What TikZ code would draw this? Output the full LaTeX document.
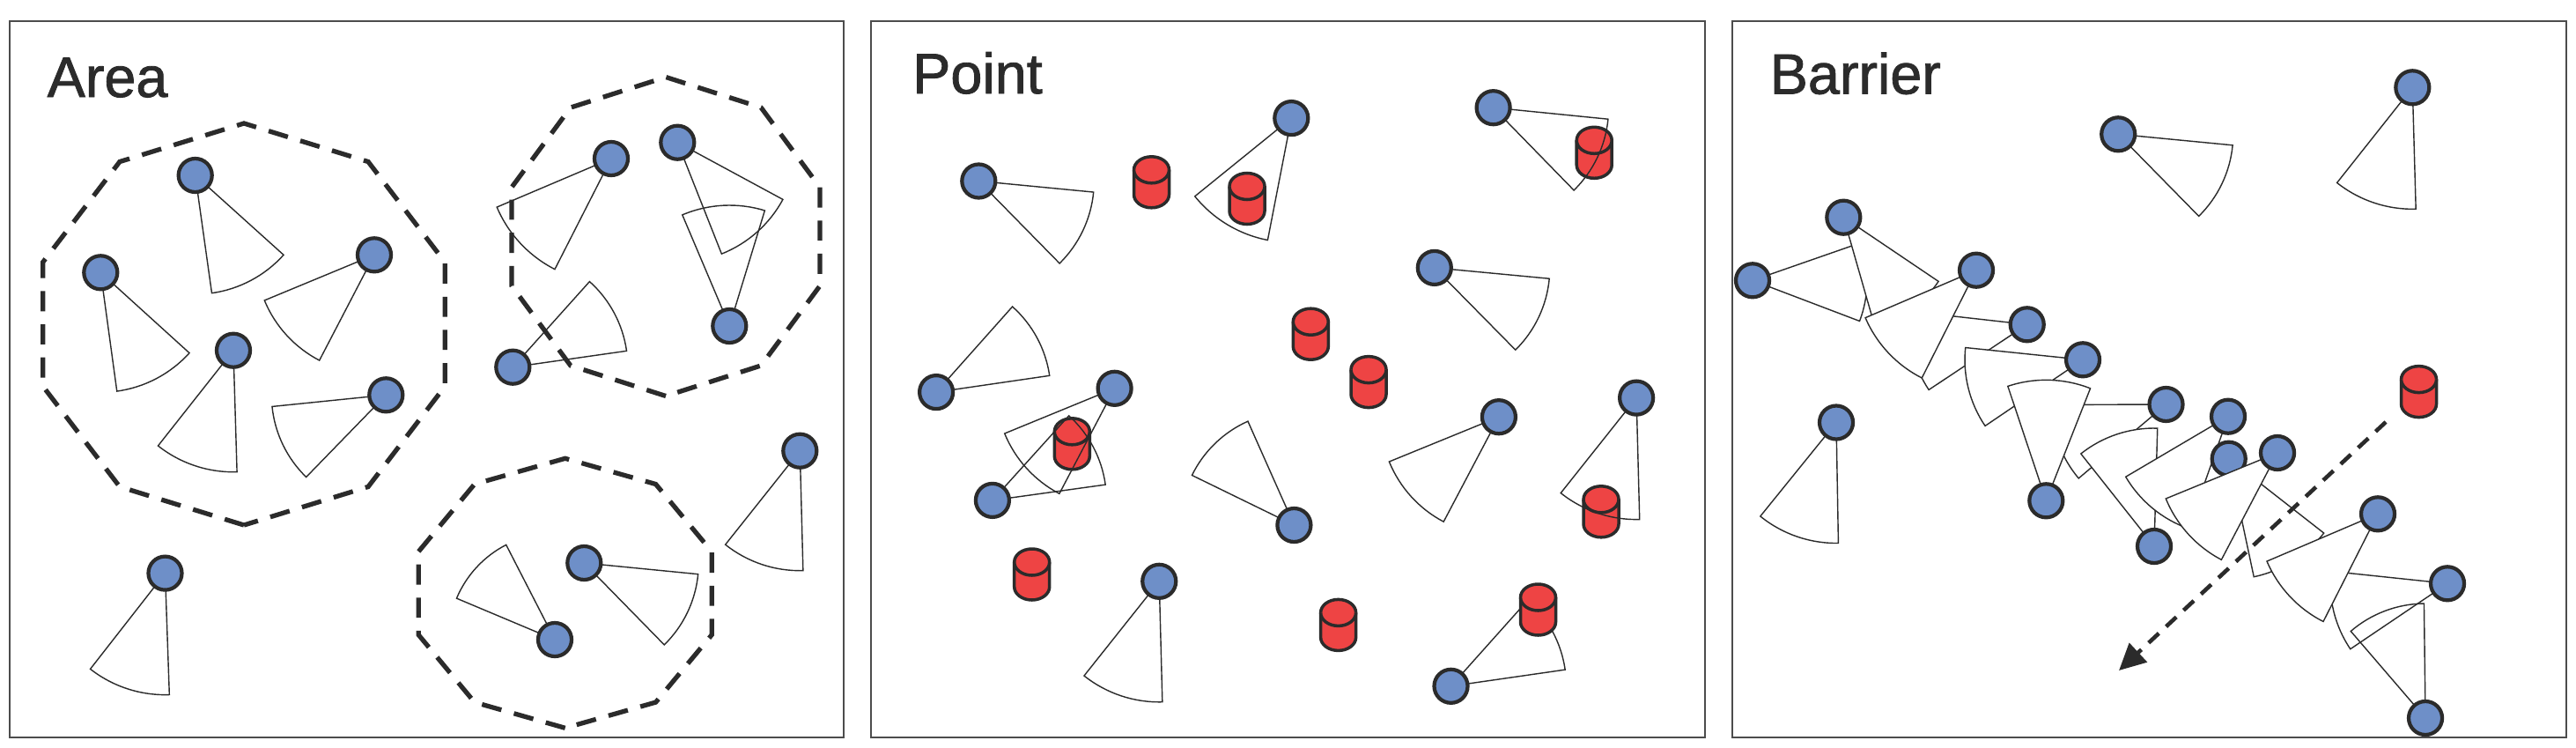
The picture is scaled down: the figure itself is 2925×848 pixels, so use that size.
\documentclass[tikz,border=0pt]{standalone}
\usepackage{fontspec}
\setmainfont{Liberation Sans}
\newfontfamily\titlefont{Liberation Sans}[FakeBold=1.3]
\usetikzlibrary{calc}
\usetikzlibrary{positioning, arrows.meta}

\definecolor{sensorblue}{HTML}{6E8FC8}
\definecolor{targetred}{HTML}{EE4444}
\definecolor{inkgray}{HTML}{2B2B2B}

% sensor: field of view first, disc on top
\newcommand{\sensor}[5][]{%
  \draw[fan,#1] (#3) -- ++(#4-20:#5) arc[start angle=#4-20, end angle=#4+20, radius=#5] -- cycle;
  \node[sensor] (#2) at (#3) {};
}
% target: small red cylinder
\newcommand{\targetcyl}[3]{%
  \coordinate (#1) at (#2,#3);
  \filldraw[target] (#2-20,#3-14) -- (#2-20,#3+14) arc[start angle=180, end angle=0, x radius=20, y radius=15]
    -- (#2+20,#3-14) arc[start angle=0, end angle=-180, x radius=20, y radius=15] -- cycle;
  \draw[target] (#2-20,#3-14) arc[start angle=180, end angle=0, x radius=20, y radius=15];
}
% dashed decagon round a group
\newcommand{\zonepoly}[3]{%
  \draw[zone] (#1) +(90:#2 and #3) \foreach \k in {1,...,9} { -- +(90+36*\k:#2 and #3) } -- cycle;
}

\begin{document}
\begin{tikzpicture}[x=0.01cm, y=0.01cm, yscale=-1]
        % Define styles
        \tikzset{
            panel/.style={draw=black!70, line width=0.5pt},
            paneltitle/.style={anchor=base west, inner sep=0pt, text=inkgray, font=\titlefont\fontsize{18.4}{22}\selectfont},
            sensor/.style={circle, draw=inkgray, fill=sensorblue, line width=1.2pt, minimum size=0.38cm, inner sep=0pt},
            fan/.style={draw=inkgray, line width=0.4pt},
            target/.style={draw=inkgray, fill=targetred, line width=1pt},
            zone/.style={draw=inkgray, line width=1.5pt, dash pattern=on 6.5pt off 4.2pt},
            moveline/.style={draw=inkgray, line width=1.3pt, dash pattern=on 4.5pt off 3.2pt, -{Triangle[length=3mm, width=2.9mm]}}
        }
        \path[fill=white] (0,0) rectangle (2925,848);
        \useasboundingbox (0,0) rectangle (2925,848);

        % Draw panels
        \draw[panel] (11,24) rectangle (958,837);
        \draw[panel] (989,24) rectangle (1936,837);
        \draw[panel] (1967,24) rectangle (2914,837);
        \node[paneltitle] (areatitle) at (53,110) {Area};
        \node[paneltitle] (pointtitle) at (1035.5,106) {Point};
        \node[paneltitle] (barriertitle) at (2009,106.5) {Barrier};

        % Area coverage
        \zonepoly{277,368}{240}{228}
        \zonepoly{756,268.5}{184}{181}
        \zonepoly{641.7,673.3}{175}{153}
        \sensor{area1}{221.7,199}{62}{135}
        \sensor{area2}{114.3,309.3}{62.2}{136}
        \sensor{area3}{425,289.3}{137.5}{135}
        \sensor{area4}{265,397.7}{108.3}{138}
        \sensor{area5}{438.3,448.3}{154.2}{130}
        \sensor{area6}{694,180}{137}{141}
        \sensor{area7}{769.3,161.7}{48.4}{136}
        \sensor{area8}{828.3,370}{-93}{137}
        \sensor{area9}{582.3,416.7}{-28.1}{130.5}
        \sensor{area10}{908.3,511.7}{108.5}{136}
        \sensor{area11}{663.3,639}{25.6}{130}
        \sensor{area12}{630,726}{-137.2}{121}
        \sensor{area13}{187.5,650.6}{108}{138}

        % Point coverage
        \targetcyl{target1}{1307.5}{206.8}
        \targetcyl{target2}{1416}{225.5}
        \targetcyl{target3}{1810.2}{173.3}
        \targetcyl{target4}{1488.3}{379.2}
        \targetcyl{target5}{1554}{433.6}
        \targetcyl{target6}{1217.3}{503.8}
        \targetcyl{target7}{1818}{580.8}
        \targetcyl{target8}{1171.7}{652}
        \targetcyl{target9}{1519.6}{709.4}
        \sensor{point1}{1111.3,205.5}{25.5}{131}
        \sensor{point2}{1466.3,134.1}{121}{141}
        \sensor{point3}{1695.6,122.2}{25.7}{131}
        \sensor{point4}{1628.8,303.9}{25.4}{131}
        \sensor{point5}{1063.1,445.1}{-28.3}{130}
        \sensor{point6}{1265.6,440.8}{137.7}{135}
        \sensor{point7}{1126.9,567.9}{-27.9}{129.5}
        \sensor{point8}{1469.4,596}{-134}{129}
        \sensor{point9}{1701.9,473.2}{137.8}{134.5}
        \sensor{point10}{1858.1,451.6}{108.5}{138}
        \sensor{point11}{1316.25,659.8}{108.5}{137}
        \sensor{point12}{1647.5,778.8}{-28.2}{131}
        \targetcyl{target10}{1746.5}{692}

        % Barrier coverage
        \sensor[fill=white]{barrier1}{2739.3,99.3}{108.4}{138}
        \sensor[fill=white]{barrier2}{2405.2,152.3}{25.5}{130.5}
        \sensor[fill=white]{barrier17}{2085,479.5}{109}{137}
        \sensor[fill=white]{barrier3}{1990,318.3}{0.8}{130}
        \sensor[fill=white]{barrier4}{2093.3,246.7}{54}{130}
        \sensor[fill=white]{barrier6}{2301.7,368.3}{166.4}{134}
        \sensor[fill=white]{barrier5}{2244,306.7}{136.8}{137}
        \sensor[fill=white]{barrier7}{2365,408.3}{165.9}{134}
        \sensor{barrier9}{2459.5,459}{159.8}{130}
        \sensor[fill=white]{barrier8}{2323.3,568.3}{-88.5}{137}
        \sensor[fill=white]{barrier10}{2446,620}{-108.4}{134}
        \sensor[fill=white]{barrier11}{2530,472.7}{129.5}{135}
        \sensor[fill=white]{barrier12}{2530.7,520.7}{58}{137}
        \sensor[fill=white]{barrier13}{2586,514}{137.7}{137}
        \sensor{barrier15}{2779,662.3}{166}{133}
        \sensor{barrier16}{2754,815}{-110.7}{130}
        \sensor[fill=white]{barrier14}{2700,583.3}{136.9}{137}
        \targetcyl{intruder}{2746.5}{444.6}
        \coordinate (entry) at (2709,479);
        \coordinate (exit) at (2406,761);
        \draw[moveline] (entry) -- (exit);
\end{tikzpicture}
\end{document}
